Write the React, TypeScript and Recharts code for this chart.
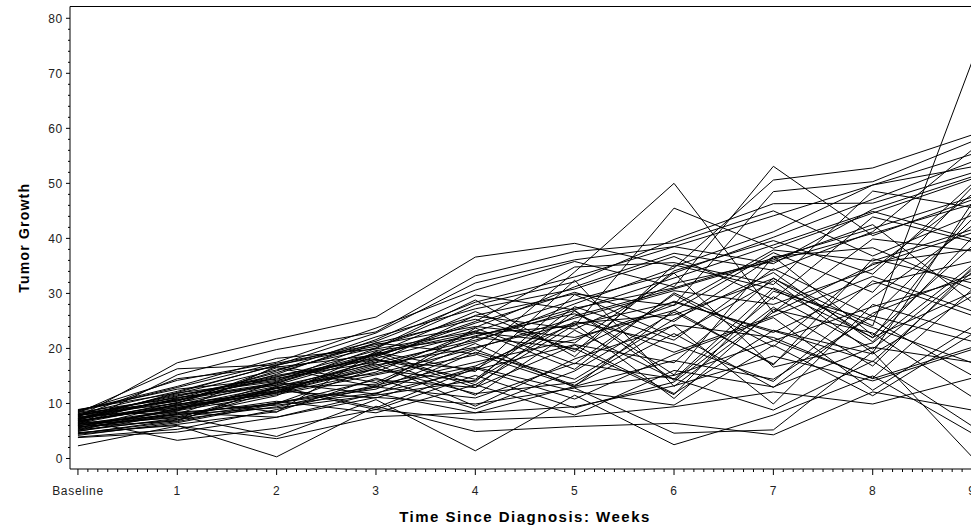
import React from 'react';
import { LineChart, Line, XAxis, YAxis, ReferenceLine } from 'recharts';

// Visit weeks and their axis labels
const weeks = [0, 1, 2, 3, 4, 5, 6, 7, 8, 9];
const weekLabels = ['Baseline', '1', '2', '3', '4', '5', '6', '7', '8', '9'];
const growthTicks = [0, 10, 20, 30, 40, 50, 60, 70, 80];

// Tumor growth per patient, one value per visit week
const pt01 = [7.2, 10.5, 14.8, 19.6, 22.1, 27.3, 31.0, 36.4, 41.8, 47.5];
const pt02 = [8.1, 12.2, 16.9, 21.3, 28.4, 33.0, 38.5, 44.1, 49.7, 55.3];
const pt03 = [6.4, 9.8, 12.3, 17.0, 20.2, 24.6, 26.1, 32.7, 24.1, 72.1];
const pt04 = [5.9, 8.7, 11.6, 15.2, 18.8, 33.9, 50.0, 26.5, 35.2, 41.0];
const pt05 = [7.8, 11.4, 15.1, 18.2, 22.7, 24.1, 45.5, 38.2, 44.6, 50.8];
const pt06 = [8.6, 14.2, 17.5, 23.7, 30.6, 35.8, 31.2, 53.1, 40.5, 47.0];
const pt07 = [6.9, 9.3, 12.0, 16.4, 21.2, 28.1, 34.6, 50.6, 52.8, 58.8];
const pt08 = [5.2, 7.1, 9.4, 13.3, 17.5, 21.6, 27.9, 48.5, 50.3, 57.6];
const pt09 = [7.5, 17.4, 21.7, 25.7, 36.6, 39.1, 34.9, 41.2, 49.7, 53.0];
const pt10 = [6.1, 15.2, 19.8, 23.0, 33.2, 37.6, 39.2, 45.0, 36.8, 44.2];
const pt11 = [8.3, 16.3, 17.0, 22.8, 31.9, 36.1, 38.5, 35.4, 45.3, 51.2];
const pt12 = [4.9, 8.1, 13.8, 11.7, 19.3, 14.4, 25.3, 33.8, 21.2, 40.1];
const pt13 = [6.6, 10.2, 13.4, 18.5, 24.6, 30.2, 24.9, 36.7, 22.4, 38.6];
const pt14 = [7.3, 11.8, 16.1, 20.1, 28.8, 18.5, 35.2, 30.8, 22.0, 30.2];
const pt15 = [5.6, 9.0, 12.7, 17.8, 16.2, 25.9, 30.8, 36.1, 42.5, 28.4];
const pt16 = [8.8, 12.6, 14.4, 19.1, 26.7, 19.4, 34.1, 39.6, 33.5, 49.9];
const pt17 = [6.2, 7.4, 10.1, 12.6, 19.8, 13.3, 22.7, 12.9, 26.4, 33.5];
const pt18 = [7.0, 10.9, 15.6, 21.0, 25.3, 19.8, 28.6, 22.9, 31.7, 35.8];
const pt19 = [5.4, 8.4, 9.7, 11.9, 16.1, 20.7, 17.4, 32.8, 21.9, 45.1];
const pt20 = [8.4, 11.0, 13.7, 18.9, 12.9, 26.8, 14.2, 29.4, 19.9, 34.3];
const pt21 = [6.8, 9.6, 11.8, 15.7, 23.2, 16.2, 30.1, 21.5, 14.6, 30.7];
const pt22 = [4.4, 6.2, 8.5, 14.6, 9.0, 15.9, 26.6, 17.2, 32.3, 26.0];
const pt23 = [7.6, 8.9, 12.9, 13.5, 20.9, 12.9, 15.1, 21.4, 27.6, 32.8];
const pt24 = [5.8, 6.8, 13.1, 9.2, 16.4, 10.8, 18.9, 25.6, 12.4, 23.9];
const pt25 = [3.8, 4.8, 7.5, 11.8, 8.3, 13.1, 17.8, 14.4, 25.9, 21.3];
const pt26 = [6.3, 7.9, 10.4, 8.3, 13.4, 7.9, 16.0, 13.0, 20.2, 17.5];
const pt27 = [2.3, 5.9, 3.6, 7.6, 8.3, 9.4, 13.2, 18.6, 14.1, 19.8];
const pt28 = [7.1, 3.3, 5.5, 8.9, 7.0, 7.6, 9.4, 12.1, 9.9, 14.6];
const pt29 = [4.7, 6.0, 0.3, 9.5, 4.9, 5.8, 6.4, 4.3, 12.1, 8.8];
const pt30 = [6.0, 7.7, 4.0, 10.7, 1.4, 11.5, 2.5, 7.9, 15.0, 4.6];
const pt31 = [8.0, 8.3, 7.5, 11.1, 9.9, 12.8, 4.6, 5.2, 19.4, 0.3];
const pt32 = [5.1, 9.1, 11.9, 18.1, 11.5, 23.3, 14.4, 31.0, 23.8, 17.4];
const pt33 = [7.9, 10.0, 16.5, 13.0, 23.7, 17.2, 29.8, 20.3, 35.5, 38.0];
const pt34 = [6.5, 11.3, 14.9, 18.0, 14.4, 27.6, 21.5, 34.5, 25.8, 43.5];
const pt35 = [8.5, 12.9, 17.3, 20.7, 24.0, 22.0, 26.9, 37.4, 30.2, 49.3];
const pt36 = [7.4, 10.8, 8.4, 19.4, 15.8, 32.4, 13.1, 26.6, 39.9, 37.7];
const pt37 = [5.0, 7.3, 12.8, 8.9, 15.1, 9.2, 13.9, 27.5, 16.8, 34.7];
const pt38 = [6.7, 9.5, 13.1, 17.2, 9.5, 18.1, 24.2, 9.9, 28.0, 22.6];
const pt39 = [4.2, 6.5, 9.9, 14.3, 12.9, 20.6, 11.8, 23.3, 19.0, 29.5];
const pt40 = [7.7, 11.6, 14.0, 21.0, 19.0, 13.1, 27.0, 17.0, 36.3, 31.9];
const pt41 = [8.2, 10.4, 15.9, 22.1, 27.2, 30.8, 36.7, 28.9, 43.9, 39.4];
const pt42 = [6.0, 8.6, 16.8, 13.8, 22.0, 20.0, 11.6, 30.4, 25.1, 15.1];
const pt43 = [5.5, 9.9, 12.1, 16.7, 22.3, 26.3, 19.3, 25.9, 33.1, 26.8];
const pt44 = [7.0, 12.0, 17.0, 20.4, 25.9, 23.5, 31.8, 35.8, 40.9, 46.2];
const pt45 = [3.9, 5.3, 8.9, 13.0, 11.0, 17.3, 14.5, 8.8, 17.7, 5.9];
const pt46 = [6.4, 8.0, 9.2, 11.5, 14.2, 24.9, 20.8, 14.0, 29.3, 42.3];
const pt47 = [8.7, 13.1, 18.2, 19.9, 23.1, 28.8, 33.7, 40.2, 47.1, 53.9];
const pt48 = [7.3, 10.7, 14.6, 17.5, 26.0, 29.9, 27.8, 37.9, 35.9, 41.6];
const pt49 = [5.7, 7.6, 11.4, 19.4, 13.4, 24.3, 28.4, 23.2, 17.6, 33.9];
const pt50 = [6.9, 9.2, 12.8, 16.2, 13.9, 29.8, 22.1, 32.3, 19.2, 46.4];
const pt51 = [4.6, 6.7, 10.2, 13.0, 16.8, 24.5, 10.9, 27.1, 22.8, 11.2];
const pt52 = [8.0, 11.1, 13.3, 15.4, 20.0, 25.5, 30.5, 28.0, 34.4, 48.0];
const pt53 = [6.2, 8.8, 12.4, 17.4, 21.5, 26.9, 15.2, 36.7, 38.3, 30.7];
const pt54 = [7.6, 14.5, 16.6, 18.8, 24.9, 34.8, 35.6, 31.6, 48.6, 45.6];
const pt55 = [5.3, 8.2, 10.0, 16.4, 11.8, 13.8, 24.3, 22.0, 14.5, 20.2];
const pt56 = [7.2, 9.7, 13.9, 19.0, 22.9, 21.0, 33.7, 16.6, 21.0, 35.1];
const pt57 = [6.6, 10.1, 15.3, 21.6, 29.7, 27.0, 32.8, 38.8, 44.9, 39.9];
const pt58 = [8.9, 11.9, 14.2, 18.7, 23.8, 31.2, 37.3, 34.2, 41.2, 56.1];
const pt59 = [4.5, 7.0, 12.3, 11.0, 16.6, 12.2, 9.7, 20.6, 11.4, 22.6];
const pt60 = [7.8, 10.6, 13.6, 20.0, 27.9, 32.1, 39.8, 46.3, 46.4, 51.9];

const patients = [
  pt01, pt02, pt03, pt04, pt05, pt06, pt07, pt08, pt09, pt10,
  pt11, pt12, pt13, pt14, pt15, pt16, pt17, pt18, pt19, pt20,
  pt21, pt22, pt23, pt24, pt25, pt26, pt27, pt28, pt29, pt30,
  pt31, pt32, pt33, pt34, pt35, pt36, pt37, pt38, pt39, pt40,
  pt41, pt42, pt43, pt44, pt45, pt46, pt47, pt48, pt49, pt50,
  pt51, pt52, pt53, pt54, pt55, pt56, pt57, pt58, pt59, pt60,
];

const table = weeks.map((week, i) => {
  const row: Record<string, number> = { week };
  patients.forEach((p, j) => {
    row[`p${j}`] = p[i];
  });
  return row;
});

// minor ticks: tenths of a week on x, every 2 units on y
const xTicks = Array.from({ length: 91 }, (_, i) => i / 10);
const yTicks = Array.from({ length: 41 }, (_, i) => i * 2);

const FONT = '"Liberation Sans", Arial, sans-serif';
const AXIS = '#000';

const XTick = (props: any) => {
  const { x, y, payload } = props;
  const r = Math.round(payload.value * 10);
  const major = r % 10 === 0;
  return (
    <g>
      <line x1={x} y1={y} x2={x} y2={y + (major ? 6 : 3)} stroke={AXIS} />
      {major && (
        <text x={x} y={y + 26} textAnchor="middle" fontFamily={FONT} fontSize={12} letterSpacing={0.7} fill="#222">
          {weekLabels[r / 10]}
        </text>
      )}
    </g>
  );
};

const YTick = (props: any) => {
  const { x, y, payload } = props;
  const major = payload.value % 10 === 0;
  return (
    <g>
      <line x1={x - (major ? 4 : 2)} y1={y} x2={x} y2={y} stroke={AXIS} />
      {major && growthTicks.includes(payload.value) && (
        <text x={x - 7} y={y + 4.4} textAnchor="end" fontFamily={FONT} fontSize={12} letterSpacing={0.7} fill="#222">
          {payload.value}
        </text>
      )}
    </g>
  );
};

const YTitle = (props: any) => {
  const vb = props.viewBox || { y: 0, height: 0 };
  const cy = vb.y + vb.height / 2;
  return (
    <text
      x={29}
      y={cy}
      transform={`rotate(-90, 29, ${cy})`}
      textAnchor="middle"
      fontFamily={FONT}
      fontSize={14}
      fontWeight="bold"
      letterSpacing={1.2}
      fill="#000"
    >
      Tumor Growth
    </text>
  );
};

const XTitle = (props: any) => {
  const vb = props.viewBox || { x: 0, width: 0 };
  const cx = vb.x + vb.width / 2;
  return (
    <text x={cx} y={522} textAnchor="middle" fontFamily={FONT} fontSize={15} fontWeight="bold" letterSpacing={1.5} fill="#000">
      Time Since Diagnosis: Weeks
    </text>
  );
};

export default function App() {
  return (
    <div style={{ position: 'fixed', left: 0, top: 0, width: 971, height: 528, overflow: 'hidden', background: '#fff' }}>
      <LineChart width={1000} height={528} data={table} margin={{ top: 6.5, right: 20, left: 0, bottom: 0 }}>
        <XAxis
          dataKey="week"
          type="number"
          domain={[-0.08, 9.08]}
          ticks={xTicks}
          interval={0}
          tickSize={0}
          tickMargin={0}
          tickLine={false}
          tick={<XTick />}
          height={59}
          axisLine={{ stroke: AXIS }}
          label={<XTitle />}
        />
        <YAxis
          type="number"
          domain={[-1.91, 82.14]}
          ticks={yTicks}
          interval={0}
          tickSize={0}
          tickMargin={0}
          tickLine={false}
          tick={<YTick />}
          width={70}
          axisLine={{ stroke: AXIS }}
          label={<YTitle />}
        />
        <ReferenceLine y={82.14} stroke="#000" ifOverflow="visible" />
        {patients.map((_, j) => (
          <Line
            key={j}
            type="linear"
            dataKey={`p${j}`}
            stroke="#000"
            strokeWidth={1}
            dot={false}
            activeDot={false}
            isAnimationActive={false}
          />
        ))}
      </LineChart>
    </div>
  );
}
